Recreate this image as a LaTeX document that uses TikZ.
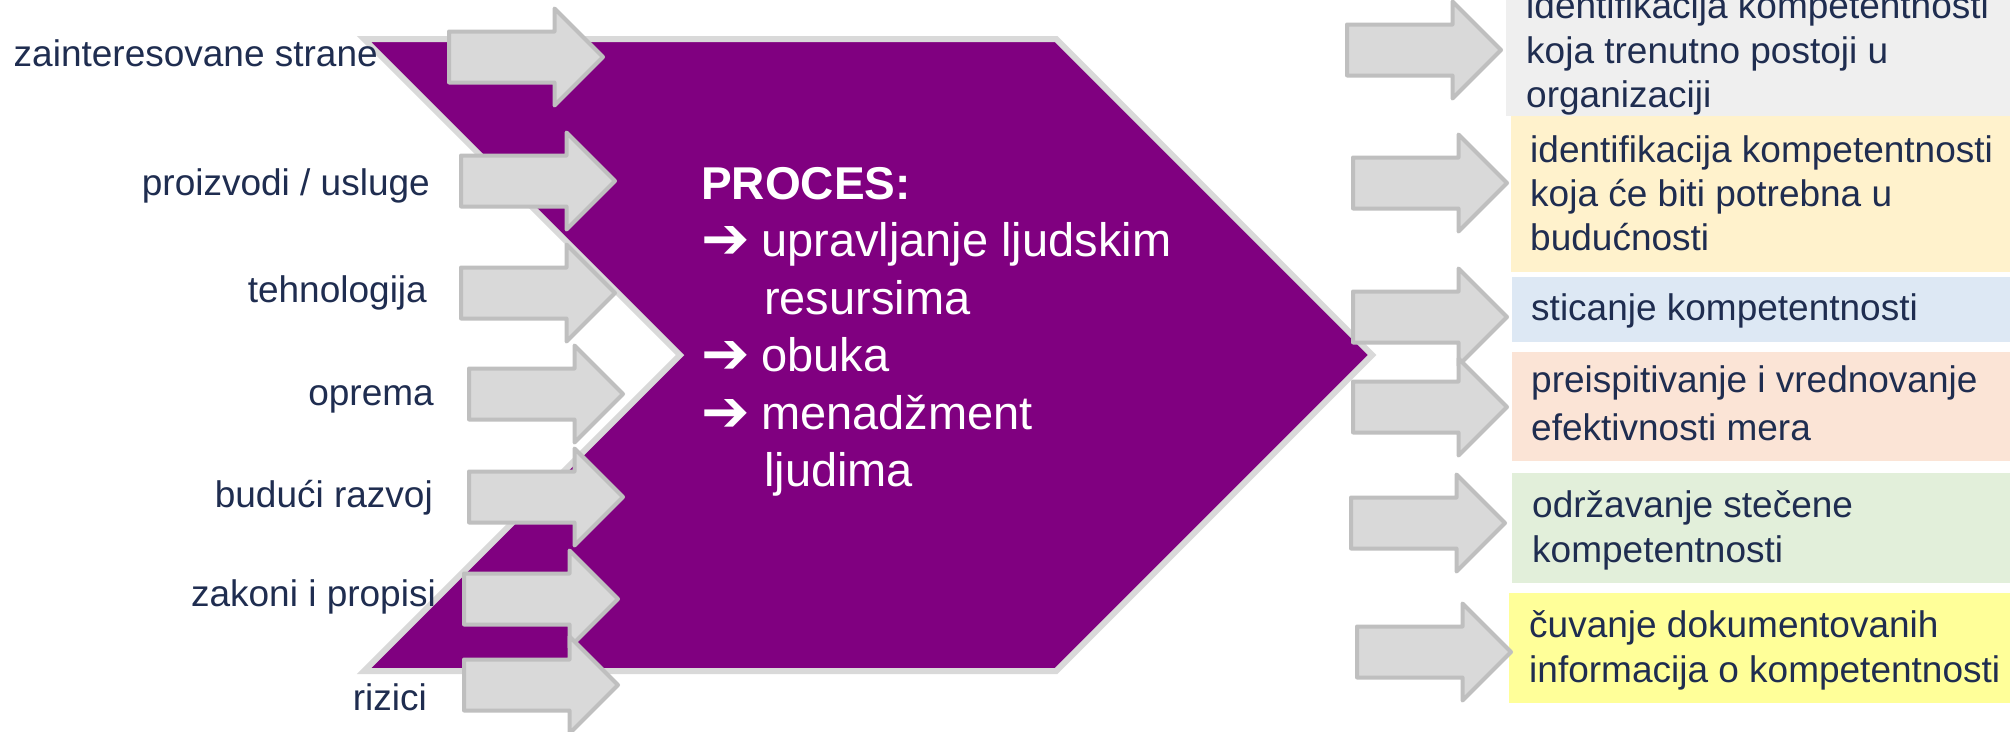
\documentclass[tikz,border=0pt]{standalone}
\usepackage{fontspec}
\setmainfont{Liberation Sans}
\newfontfamily\djv{DejaVu Sans}
\usetikzlibrary{shapes.arrows}
\definecolor{purp}{HTML}{800080}
\definecolor{chevline}{HTML}{D9D9D9}
\definecolor{arrfill}{HTML}{D9D9D9}
\definecolor{arrline}{HTML}{BFBFBF}
\definecolor{navy}{HTML}{1F2D50}
\definecolor{boxA}{HTML}{EFEFEF}
\definecolor{boxB}{HTML}{FFF2CC}
\definecolor{boxC}{HTML}{DDE8F4}
\definecolor{boxD}{HTML}{FBE4D6}
\definecolor{boxE}{HTML}{E2EFDA}
\definecolor{boxF}{HTML}{FFFF99}
\newcommand\procarr{\makebox[60pt][l]{\raisebox{-2pt}{\djv\bfseries\fontsize{58}{58}\selectfont ➔}}}
\newcommand\linestack[2]{\vtop{\baselineskip=#1pt\relax #2}}
\begin{document}
\begin{tikzpicture}[x=1pt,y=-1pt,
  blockarrow/.style={single arrow, draw=arrline, fill=arrfill, line width=4pt,
    line join=round, single arrow head extend=23pt,
    minimum height=154pt, inner xsep=0pt, inner ysep=23.5pt, outer sep=0pt,
    anchor=tail},
  leftlabel/.style={anchor=base east, inner sep=0pt, text=navy,
    font=\fontsize{37}{44}\selectfont},
  rightlabel/.style={anchor=base west, inner sep=0pt, text=navy,
    font=\fontsize{37}{44.5}\selectfont},
  outbox/.style={rectangle, inner sep=0pt, outer sep=0pt, anchor=north west,
    draw=none, minimum width=510pt}]
\fill[white] (0,0) rectangle (2010,731);
\useasboundingbox (0,0) rectangle (2010,731);

% output boxes
\node[outbox, fill=boxA, minimum height=126pt] (b1) at (1506,-10) {};
\node[outbox, fill=boxB, minimum height=156pt] (b2) at (1511,116) {};
\node[outbox, fill=boxC, minimum height=65pt]  (b3) at (1512,277) {};
\node[outbox, fill=boxD, minimum height=109pt] (b4) at (1512,352) {};
\node[outbox, fill=boxE, minimum height=110pt] (b5) at (1512,473) {};
\node[outbox, fill=boxF, minimum height=110pt] (b6) at (1509,593) {};

% chevron
\draw[fill=purp, draw=chevline, line width=6pt, line join=miter]
  (364,39) -- (1056,39) -- (1372,355) -- (1056,671) -- (364,671) -- (680,355) -- cycle;

% process text
\node[anchor=base west, inner sep=0pt, text=white,
  font=\fontsize{47}{57.5}\selectfont] (proc) at (701,199)
  {\vtop{\hbox{\fontsize{46}{57.5}\selectfont\bfseries PROCES:}%
   \hbox{\procarr upravljanje ljudskim}%
   \hbox{\hspace*{63pt}resursima}%
   \hbox{\procarr obuka}%
   \hbox{\procarr menadžment}%
   \hbox{\hspace*{63pt}ljudima}}};

% left labels
\node[leftlabel] (l1) at (378,66) {zainteresovane strane};
\node[leftlabel] (l2) at (430,195) {proizvodi / usluge};
\node[leftlabel] (l3) at (427,302) {tehnologija};
\node[leftlabel] (l4) at (434,405) {oprema};
\node[leftlabel] (l5) at (433,507) {budući razvoj};
\node[leftlabel] (l6) at (436,606) {zakoni i propisi};
\node[leftlabel] (l7) at (427,710) {rizici};

% input arrows
\node[blockarrow] (in1) at (449,57) {};
\node[blockarrow] (in2) at (461,181) {};
\node[blockarrow] (in3) at (461,293) {};
\node[blockarrow] (in4) at (469,394) {};
\node[blockarrow] (in5) at (469,497) {};
\node[blockarrow] (in6) at (464,599) {};
\node[blockarrow] (in7) at (464,685) {};

% output arrows
\node[blockarrow] (out1) at (1347,50) {};
\node[blockarrow] (out2) at (1353,183) {};
\node[blockarrow] (out3) at (1353,317) {};
\node[blockarrow] (out4) at (1353,407) {};
\node[blockarrow] (out5) at (1351,523) {};
\node[blockarrow] (out6) at (1357,652) {};

% output texts
\node[rightlabel] (t1) at (1526,18.5) {\linestack{44.5}{\hbox{identifikacija kompetentnosti}\hbox{koja trenutno postoji u}\hbox{organizaciji}}};
\node[rightlabel] (t2) at (1530,162) {\linestack{44}{\hbox{identifikacija kompetentnosti}\hbox{koja će biti potrebna u}\hbox{budućnosti}}};
\node[rightlabel] (t3) at (1531,320) {sticanje kompetentnosti};
\node[rightlabel] (t4) at (1531,392) {\linestack{48}{\hbox{preispitivanje i vrednovanje}\hbox{efektivnosti mera}}};
\node[rightlabel] (t5) at (1532,517) {\linestack{45}{\hbox{održavanje stečene}\hbox{kompetentnosti}}};
\node[rightlabel] (t6) at (1529,637) {\linestack{45}{\hbox{čuvanje dokumentovanih}\hbox{informacija o kompetentnosti}}};
\end{tikzpicture}
\end{document}
